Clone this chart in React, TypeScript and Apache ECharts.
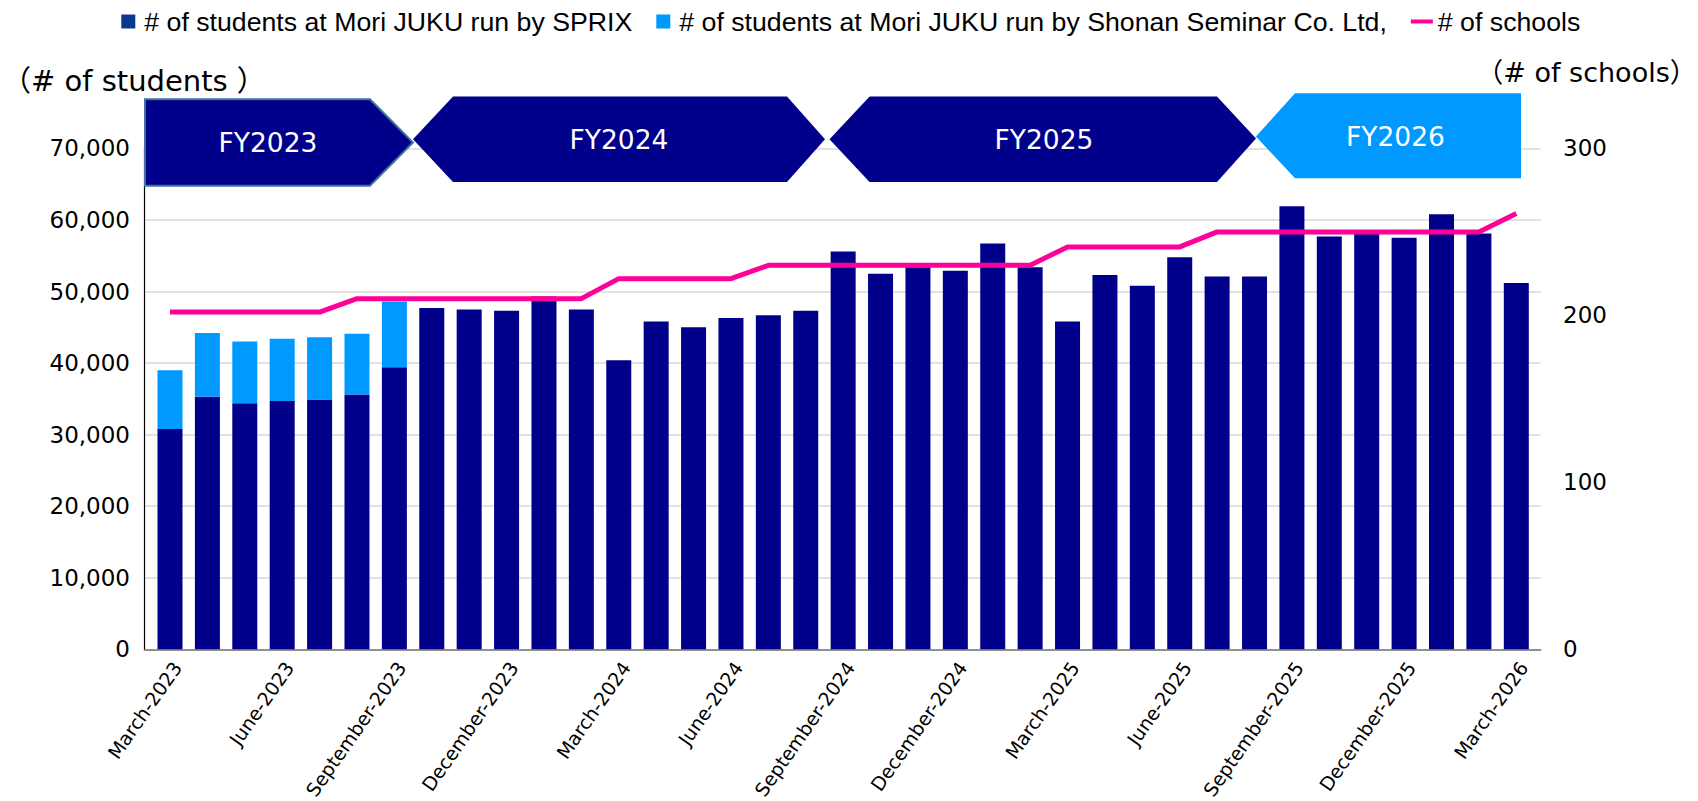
import React, { useEffect, useRef } from 'react';
import * as echarts from 'echarts';

const months = [
  'March-2023', 'April-2023', 'May-2023', 'June-2023', 'July-2023', 'August-2023',
  'September-2023', 'October-2023', 'November-2023', 'December-2023', 'January-2024', 'February-2024',
  'March-2024', 'April-2024', 'May-2024', 'June-2024', 'July-2024', 'August-2024',
  'September-2024', 'October-2024', 'November-2024', 'December-2024', 'January-2025', 'February-2025',
  'March-2025', 'April-2025', 'May-2025', 'June-2025', 'July-2025', 'August-2025',
  'September-2025', 'October-2025', 'November-2025', 'December-2025', 'January-2026', 'February-2026',
  'March-2026',
];

const sprixStudents = [
  30800, 35300, 34400, 34700, 34900, 35600, 39400, 47700, 47500, 47300, 49300, 47500,
  40400, 45800, 45000, 46300, 46700, 47300, 55600, 52500, 53400, 52900, 56700, 53400,
  45800, 52300, 50800, 54800, 52100, 52100, 61900, 57700, 58300, 57500, 60800, 58100,
  51200,
];

const shonanStudents = [
  8200, 8900, 8600, 8700, 8700, 8500, 9200, null, null, null, null, null,
  null, null, null, null, null, null, null, null, null, null, null, null,
  null, null, null, null, null, null, null, null, null, null, null, null,
  null,
];

const schoolCounts = [
  202, 202, 202, 202, 202, 210, 210, 210, 210, 210, 210, 210,
  222, 222, 222, 222, 230, 230, 230, 230, 230, 230, 230, 230,
  241, 241, 241, 241, 250, 250, 250, 250, 250, 250, 250, 250,
  261,
];

const seriesNames = [
  '# of students at Mori JUKU run by SPRIX',
  '# of students at Mori JUKU run by Shonan Seminar Co. Ltd,',
  '# of schools',
];

const fiscalYears = ['FY2023', 'FY2024', 'FY2025', 'FY2026'];
const studentAxis = { min: 0, max: 70000, interval: 10000 };
const schoolAxis = { min: 0, max: 300, interval: 100 };
const axisTitles = ['（# of students ）', '（# of schools）'];

const NAVY = '#00008B';
const LIGHT = '#0099FF';
const PINK = '#FF0099';

export default function App() {
  const ref = useRef<HTMLDivElement>(null);

  useEffect(() => {
    const chart = echarts.init(ref.current as HTMLDivElement, null, { renderer: 'svg' });

    const fyShapes = [
      { points: [[145, 99.3], [370, 99.3], [413, 142.5], [370, 185.7], [145, 185.7]], fill: NAVY, stroke: '#41719C', tx: 268, ty: 142.5 },
      { points: [[413, 139.3], [453, 96.5], [787, 96.5], [825, 139.3], [787, 182], [453, 182]], fill: NAVY, stroke: null, tx: 619, ty: 139 },
      { points: [[829.5, 139.3], [869.6, 96.5], [1217, 96.5], [1256, 138.5], [1217, 182], [869.6, 182]], fill: NAVY, stroke: null, tx: 1044, ty: 139 },
      { points: [[1256, 136.5], [1295, 93.3], [1521, 93.3], [1521, 178.3], [1295, 178.3]], fill: LIGHT, stroke: null, tx: 1395.5, ty: 136.5 },
    ];

    const graphics: any[] = [];
    fyShapes.forEach((s, i) => {
      graphics.push({
        type: 'polygon',
        z: 100,
        shape: { points: s.points },
        style: s.stroke ? { fill: s.fill, stroke: s.stroke, lineWidth: 2 } : { fill: s.fill },
      });
      graphics.push({
        type: 'text',
        z: 101,
        x: s.tx,
        y: s.ty,
        style: {
          text: fiscalYears[i],
          fill: '#ffffff',
          fontSize: 26.5,
          fontFamily: '"DejaVu Sans", sans-serif',
          align: 'center',
          verticalAlign: 'middle',
        },
      });
    });
    graphics.push({
      type: 'text',
      x: 2,
      y: 81,
      style: {
        text: axisTitles[0],
        fill: '#000',
        fontSize: 29,
        fontFamily: '"DejaVu Sans", "Noto Sans CJK JP", sans-serif',
        align: 'left',
        verticalAlign: 'middle',
      },
    });
    graphics.push({
      type: 'text',
      x: 1586.5,
      y: 72.5,
      style: {
        text: axisTitles[1],
        fill: '#000',
        fontSize: 27,
        fontFamily: '"DejaVu Sans", "Noto Sans CJK JP", sans-serif',
        align: 'center',
        verticalAlign: 'middle',
      },
    });

    const squareIcon = 'path://M0 0H14V14H0Z';
    const lineIcon = 'path://M0 0H22V4H0Z';

    const option: any = {
      animation: false,
      backgroundColor: '#ffffff',
      legend: {
        left: 121.3,
        top: 7.5,
        padding: 0,
        itemWidth: 22,
        itemHeight: 14,
        itemGap: 24,
        textStyle: {
          fontFamily: '"Liberation Sans", Arial, sans-serif',
          fontSize: 26.7,
          color: '#000',
          lineHeight: 28,
        },
        data: [
          { name: seriesNames[0], icon: squareIcon, itemStyle: { color: '#0A3A8E' } },
          { name: seriesNames[1], icon: squareIcon, itemStyle: { color: LIGHT } },
          { name: seriesNames[2], icon: lineIcon, itemStyle: { color: PINK } },
        ],
      },
      grid: [
        { left: 151.3, right: 163, top: 148.4, bottom: 151.7, outerBoundsMode: 'none', containLabel: false },
        { left: 144.3, right: 157.3, top: 148.4, bottom: 151.7, outerBoundsMode: 'none', containLabel: false },
      ],
      xAxis: [
        {
          type: 'category',
          gridIndex: 0,
          data: months,
          boundaryGap: true,
          axisLine: { show: false },
          axisTick: { show: false },
          axisLabel: {
            interval: 2,
            rotate: 55,
            fontSize: 19,
            fontFamily: '"DejaVu Sans", sans-serif',
            color: '#000',
            margin: 9.6,
            verticalAlign: 'top',
            lineHeight: 17.4,
          },
        },
        {
          type: 'category',
          gridIndex: 1,
          data: [''],
          axisLine: { show: true, lineStyle: { color: '#767676', width: 1.5 } },
          axisTick: { show: false },
          axisLabel: { show: false },
        },
      ],
      yAxis: [
        {
          type: 'value',
          gridIndex: 0,
          position: 'left',
          min: studentAxis.min,
          max: studentAxis.max,
          interval: studentAxis.interval,
          axisLine: { show: false },
          axisTick: { show: false },
          splitLine: { show: false },
          axisLabel: {
            fontSize: 23,
            fontFamily: '"DejaVu Sans", sans-serif',
            color: '#000',
            margin: 21.3,
            formatter: (v: number) => v.toLocaleString('en-US'),
          },
        },
        {
          type: 'value',
          gridIndex: 0,
          position: 'right',
          min: schoolAxis.min,
          max: schoolAxis.max,
          interval: schoolAxis.interval,
          axisLine: { show: false },
          axisTick: { show: false },
          splitLine: { show: false },
          axisLabel: {
            fontSize: 23,
            fontFamily: '"DejaVu Sans", sans-serif',
            color: '#000',
            margin: 28,
          },
        },
        {
          type: 'value',
          gridIndex: 1,
          position: 'left',
          min: studentAxis.min,
          max: studentAxis.max,
          interval: studentAxis.interval,
          axisLine: { show: true, lineStyle: { color: '#000', width: 1.2 } },
          axisTick: { show: false },
          axisLabel: { show: false },
          splitLine: { show: true, lineStyle: { color: '#D9D9D9', width: 1.5 } },
        },
      ],
      series: [
        {
          name: seriesNames[0],
          type: 'bar',
          xAxisIndex: 0,
          yAxisIndex: 0,
          stack: 'students',
          barWidth: 25,
          itemStyle: { color: NAVY },
          data: sprixStudents,
        },
        {
          name: seriesNames[1],
          type: 'bar',
          xAxisIndex: 0,
          yAxisIndex: 0,
          stack: 'students',
          barWidth: 25,
          itemStyle: { color: LIGHT },
          data: shonanStudents,
        },
        {
          name: seriesNames[2],
          type: 'line',
          xAxisIndex: 0,
          yAxisIndex: 1,
          symbol: 'none',
          lineStyle: { color: PINK, width: 5 },
          itemStyle: { color: PINK },
          data: schoolCounts,
          z: 5,
        },
      ],
      graphic: graphics,
    };

    chart.setOption(option);
    return () => chart.dispose();
  }, []);

  return (
    <div
      ref={ref}
      style={{ position: 'absolute', left: 0, top: 0, width: 1698, height: 801, background: '#fff' }}
    />
  );
}
